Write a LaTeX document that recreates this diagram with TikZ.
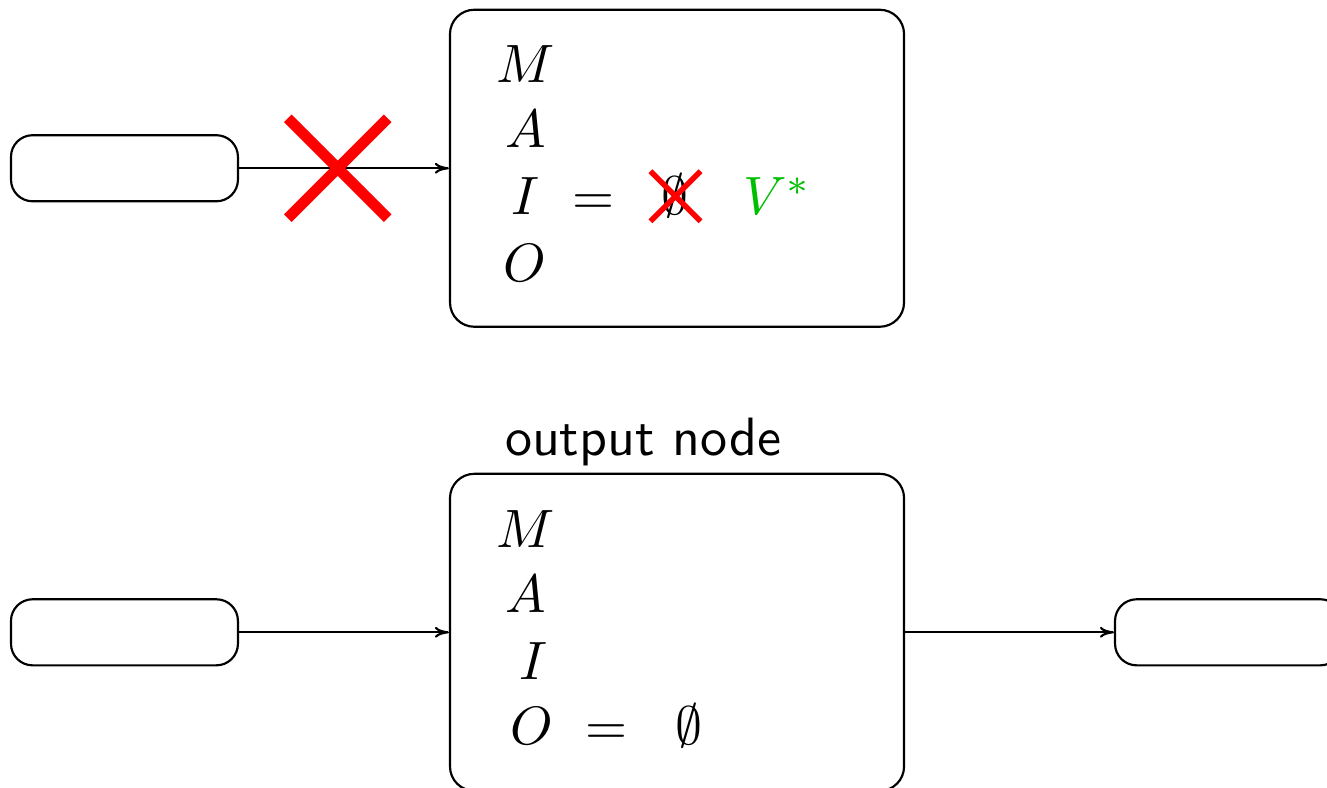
\documentclass[tikz,border=0pt]{standalone}
\usetikzlibrary{positioning, arrows.meta}

\begin{document}
\begin{tikzpicture}[
  slot/.style={draw, rounded corners=4pt, minimum width=1.477cm, minimum height=0.430cm},
  state/.style={draw, rounded corners=4.5pt, minimum width=2.955cm, minimum height=2.063cm},
  entry/.style={anchor=base, inner sep=0pt},
  flow/.style={-{To[length=2.6pt, width=2pt]}},
  bigx/.style={draw=red, line width=2pt},
  smallx/.style={draw=red, line width=1pt}]
  \useasboundingbox (0,0) rectangle (8.636,-5.128);

  % Top: input is cut off
  \node[slot] (inA) at (0.810,-1.095) {};
  \node[state] (boxA) at (4.406,-1.095) {};
  \draw[flow] (inA) -- coordinate[pos=0.47] (cutA) (boxA);
  \draw[bigx] (cutA) ++(-0.325,-0.325) -- ++(0.65,0.65)
              (cutA) ++(-0.325,0.325) -- ++(0.65,-0.65);

  \node[entry] (mA) at (3.420,-0.540) {$M$};
  \node[entry] (aA) at (3.423,-0.963) {$A$};
  \node[entry] (iA) at (3.420,-1.399) {$I$};
  \node[entry] (eqA) at (3.862,-1.399) {$=$};
  \node[entry] (nullA) at (4.396,-1.399) {$\emptyset$};
  \node[entry, text=green!75!black] (vA) at (5.060,-1.399) {$V^*$};
  \node[entry] (oA) at (3.417,-1.829) {$O$};
  \draw[smallx] (nullA.center) ++(-0.163,-0.163) -- ++(0.326,0.326)
                (nullA.center) ++(-0.163,0.163) -- ++(0.326,-0.326);

  % Bottom: output node
  \node[slot] (inB) at (0.810,-4.115) {};
  \node[state] (boxB) at (4.406,-4.115) {};
  \node[slot] (outB) at (7.995,-4.115) {};
  \node[font=\sffamily, inner sep=1pt, above=0pt of boxB, xshift=-0.221cm] (outlbl) {output node};
  \draw[flow] (inB) -- (boxB);
  \draw[flow] (boxB) -- (outB);

  \node[entry] (mB) at (3.420,-3.560) {$M$};
  \node[entry] (aB) at (3.423,-3.989) {$A$};
  \node[entry] (iB) at (3.472,-4.419) {$I$};
  \node[entry] (oB) at (3.462,-4.848) {$O$};
  \node[entry] (eqB) at (3.947,-4.848) {$=$};
  \node[entry] (nullB) at (4.487,-4.848) {$\emptyset$};
\end{tikzpicture}
\end{document}
